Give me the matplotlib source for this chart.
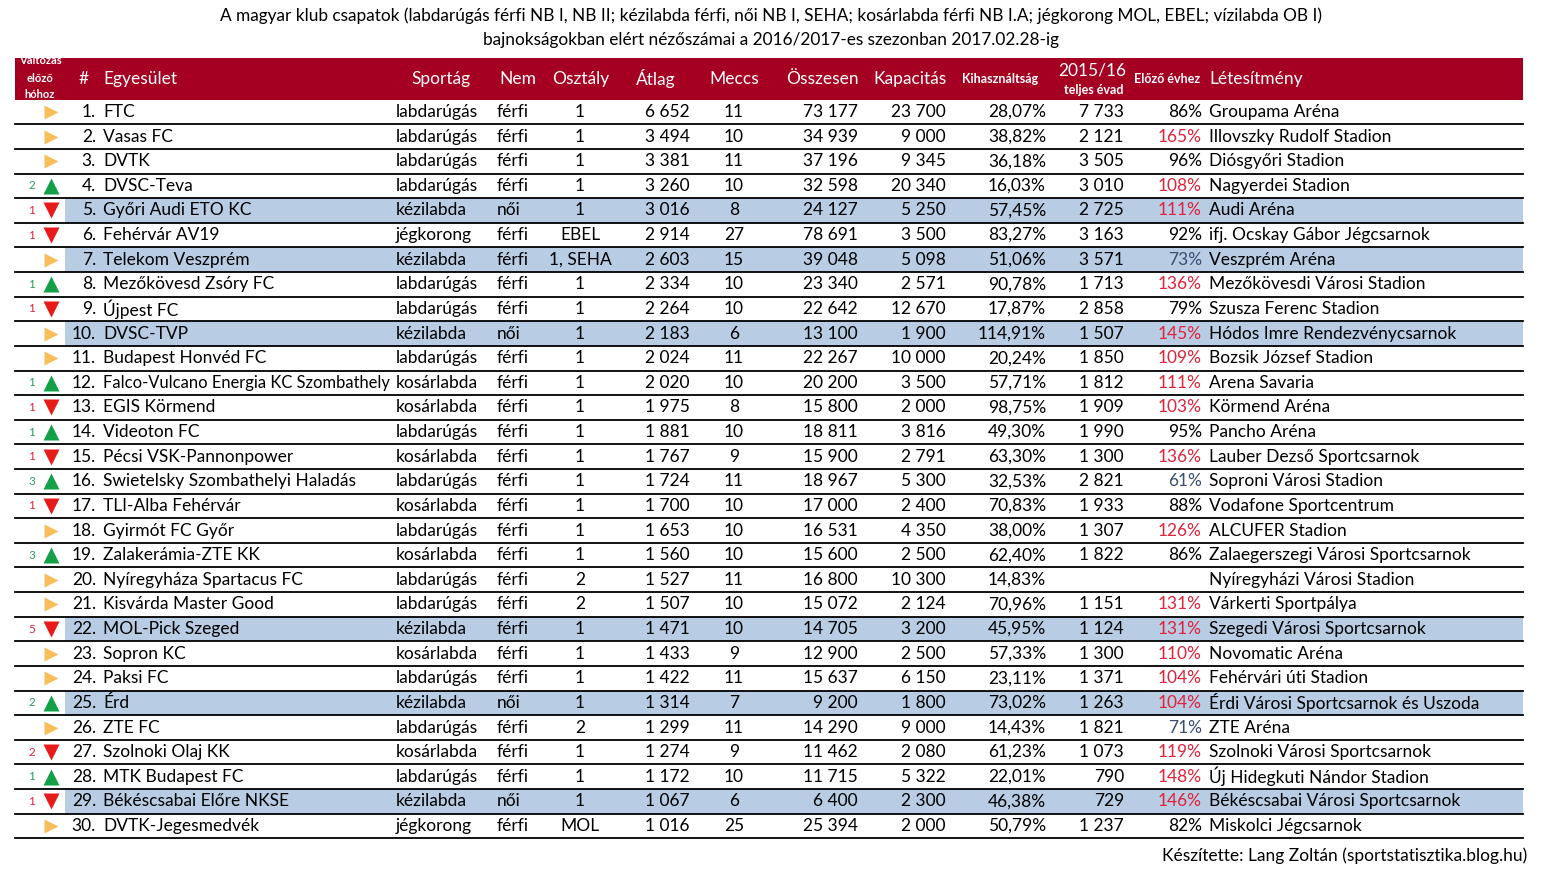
import matplotlib.pyplot as plt
from matplotlib.patches import Rectangle

plt.rcParams['font.family'] = ['Lato', 'DejaVu Sans']

# adatok
valtozas = [0, 0, 0, 2, -1, -1, 0, 1, -1, 0, 0, 1, -1, 1, -1, 3, -1, 0, 3, 0,
            0, -5, 0, 0, 2, 0, -2, 1, -1, 0]
egyesulet = ['FTC', 'Vasas FC', 'DVTK', 'DVSC-Teva', 'Győri Audi ETO KC', 'Fehérvár AV19',
             'Telekom Veszprém', 'Mezőkövesd Zsóry FC', 'Újpest FC', 'DVSC-TVP',
             'Budapest Honvéd FC', 'Falco-Vulcano Energia KC Szombathely', 'EGIS Körmend',
             'Videoton FC', 'Pécsi VSK-Pannonpower', 'Swietelsky Szombathelyi Haladás',
             'TLI-Alba Fehérvár', 'Gyirmót FC Győr', 'Zalakerámia-ZTE KK',
             'Nyíregyháza Spartacus FC', 'Kisvárda Master Good', 'MOL-Pick Szeged',
             'Sopron KC', 'Paksi FC', 'Érd', 'ZTE FC', 'Szolnoki Olaj KK', 'MTK Budapest FC',
             'Békéscsabai Előre NKSE', 'DVTK-Jegesmedvék']
sportag = ['labdarúgás', 'labdarúgás', 'labdarúgás', 'labdarúgás', 'kézilabda', 'jégkorong',
           'kézilabda', 'labdarúgás', 'labdarúgás', 'kézilabda', 'labdarúgás', 'kosárlabda',
           'kosárlabda', 'labdarúgás', 'kosárlabda', 'labdarúgás', 'kosárlabda', 'labdarúgás',
           'kosárlabda', 'labdarúgás', 'labdarúgás', 'kézilabda', 'kosárlabda', 'labdarúgás',
           'kézilabda', 'labdarúgás', 'kosárlabda', 'labdarúgás', 'kézilabda', 'jégkorong']
nem = ['férfi', 'férfi', 'férfi', 'férfi', 'női', 'férfi', 'férfi', 'férfi', 'férfi', 'női',
       'férfi', 'férfi', 'férfi', 'férfi', 'férfi', 'férfi', 'férfi', 'férfi', 'férfi', 'férfi',
       'férfi', 'férfi', 'férfi', 'férfi', 'női', 'férfi', 'férfi', 'férfi', 'női', 'férfi']
osztaly = ['1', '1', '1', '1', '1', 'EBEL', '1, SEHA', '1', '1', '1', '1', '1', '1', '1', '1',
           '1', '1', '1', '1', '2', '2', '1', '1', '1', '1', '2', '1', '1', '1', 'MOL']
atlag = [6652, 3494, 3381, 3260, 3016, 2914, 2603, 2334, 2264, 2183, 2024, 2020, 1975, 1881,
         1767, 1724, 1700, 1653, 1560, 1527, 1507, 1471, 1433, 1422, 1314, 1299, 1274, 1172,
         1067, 1016]
meccs = [11, 10, 11, 10, 8, 27, 15, 10, 10, 6, 11, 10, 8, 10, 9, 11, 10, 10, 10, 11, 10, 10,
         9, 11, 7, 11, 9, 10, 6, 25]
osszesen = [73177, 34939, 37196, 32598, 24127, 78691, 39048, 23340, 22642, 13100, 22267,
            20200, 15800, 18811, 15900, 18967, 17000, 16531, 15600, 16800, 15072, 14705,
            12900, 15637, 9200, 14290, 11462, 11715, 6400, 25394]
kapacitas = [23700, 9000, 9345, 20340, 5250, 3500, 5098, 2571, 12670, 1900, 10000, 3500,
             2000, 3816, 2791, 5300, 2400, 4350, 2500, 10300, 2124, 3200, 2500, 6150, 1800,
             9000, 2080, 5322, 2300, 2000]
kihasznaltsag = ['28,07%', '38,82%', '36,18%', '16,03%', '57,45%', '83,27%', '51,06%',
                 '90,78%', '17,87%', '114,91%', '20,24%', '57,71%', '98,75%', '49,30%',
                 '63,30%', '32,53%', '70,83%', '38,00%', '62,40%', '14,83%', '70,96%',
                 '45,95%', '57,33%', '23,11%', '73,02%', '14,43%', '61,23%', '22,01%',
                 '46,38%', '50,79%']
elozo_evad = [7733, 2121, 3505, 3010, 2725, 3163, 3571, 1713, 2858, 1507, 1850, 1812, 1909,
              1990, 1300, 2821, 1933, 1307, 1822, None, 1151, 1124, 1300, 1371, 1263, 1821,
              1073, 790, 729, 1237]
elozo_evhez = [86, 165, 96, 108, 111, 92, 73, 136, 79, 145, 109, 111, 103, 95, 136, 61, 88,
               126, 86, None, 131, 131, 110, 104, 104, 71, 119, 148, 146, 82]
letesitmeny = ['Groupama Aréna', 'Illovszky Rudolf Stadion', 'Diósgyőri Stadion',
               'Nagyerdei Stadion', 'Audi Aréna', 'ifj. Ocskay Gábor Jégcsarnok',
               'Veszprém Aréna', 'Mezőkövesdi Városi Stadion', 'Szusza Ferenc Stadion',
               'Hódos Imre Rendezvénycsarnok', 'Bozsik József Stadion', 'Arena Savaria',
               'Körmend Aréna', 'Pancho Aréna', 'Lauber Dezső Sportcsarnok',
               'Soproni Városi Stadion', 'Vodafone Sportcentrum', 'ALCUFER Stadion',
               'Zalaegerszegi Városi Sportcsarnok', 'Nyíregyházi Városi Stadion',
               'Várkerti Sportpálya', 'Szegedi Városi Sportcsarnok', 'Novomatic Aréna',
               'Fehérvári úti Stadion', 'Érdi Városi Sportcsarnok és Uszoda', 'ZTE Aréna',
               'Szolnoki Városi Sportcsarnok', 'Új Hidegkuti Nándor Stadion',
               'Békéscsabai Városi Sportcsarnok', 'Miskolci Jégcsarnok']


def ezres(v):
    if v is None:
        return ''
    return f'{v:,}'.replace(',', ' ')


fig = plt.figure(figsize=(15.41, 8.71), dpi=100)
ax = fig.add_axes([0, 0, 1, 1])
ax.set_xlim(0, 1541)
ax.set_ylim(871, 0)
ax.axis('off')

FS = 12.5
SMALL = 9
BORDO = '#A50021'
KEK = '#B8CCE4'

# cim
ax.text(771, 16, 'A magyar klub csapatok (labdarúgás férfi NB I, NB II; kézilabda férfi, női NB I, SEHA; '
        'kosárlabda férfi NB I.A; jégkorong MOL, EBEL; vízilabda OB I)',
        ha='center', va='center', fontsize=12.4)
ax.text(771, 40, 'bajnokságokban elért nézőszámai a 2016/2017-es szezonban 2017.02.28-ig',
        ha='center', va='center', fontsize=12.4)

# fejlec
ax.add_patch(Rectangle((15, 58), 1508, 42, color=BORDO, lw=0))
w = 'white'
for yy, t in zip([61, 78, 94], ['Változás', 'előző', 'hóhoz']):
    ax.text(40, yy, t, ha='center', va='center', fontsize=8, color=w, fontweight='bold')
ax.text(84, 79, '#', ha='center', va='center', fontsize=FS, color=w)
ax.text(103, 79, 'Egyesület', ha='left', va='center', fontsize=FS, color=w)
ax.text(441, 79, 'Sportág', ha='center', va='center', fontsize=FS, color=w)
ax.text(518, 79, 'Nem', ha='center', va='center', fontsize=FS, color=w)
ax.text(581, 79, 'Osztály', ha='center', va='center', fontsize=FS, color=w)
ax.text(656, 79, 'Átlag', ha='center', va='center', fontsize=FS, color=w)
ax.text(734, 79, 'Meccs', ha='center', va='center', fontsize=FS, color=w)
ax.text(822, 79, 'Összesen', ha='center', va='center', fontsize=FS, color=w)
ax.text(910, 79, 'Kapacitás', ha='center', va='center', fontsize=FS, color=w)
ax.text(1000, 79, 'Kihasználtság', ha='center', va='center', fontsize=SMALL, color=w, fontweight='bold')
ax.text(1092, 70, '2015/16', ha='center', va='center', fontsize=FS, color=w)
ax.text(1094, 90, 'teljes évad', ha='center', va='center', fontsize=SMALL, color=w, fontweight='bold')
ax.text(1167, 79, 'Előző évhez', ha='center', va='center', fontsize=SMALL, color=w, fontweight='bold')
ax.text(1209, 79, 'Létesítmény', ha='left', va='center', fontsize=FS, color=w)

y0 = 112
dy = 24.62
for i in range(len(egyesulet)):
    y = y0 + i * dy
    if sportag[i] == 'kézilabda':
        ax.add_patch(Rectangle((65, y - dy / 2), 1458, dy, color=KEK, lw=0, zorder=0))
    ax.plot([15, 1523], [y + dy / 2, y + dy / 2], color='black', lw=1.3)

    v = valtozas[i]
    if v > 0:
        ax.text(35, y, str(v), ha='right', va='center', fontsize=8.5, color='#2E9E5B')
        ax.plot(51, y, marker='^', ms=11, color='#13A048', mec='none')
    elif v < 0:
        ax.text(35, y, str(-v), ha='right', va='center', fontsize=8.5, color='#E0223A')
        ax.plot(51, y, marker='v', ms=11, color='#E81B1B', mec='none')
    else:
        ax.plot(51, y, marker='>', ms=10, color='#F9BE5C', mec='none')

    ax.text(96, y, f'{i + 1}.', ha='right', va='center', fontsize=FS)
    nev_fs = FS if len(egyesulet[i]) < 32 else 11.9
    ax.text(103, y, egyesulet[i], ha='left', va='center', fontsize=nev_fs)
    ax.text(396, y, sportag[i], ha='left', va='center', fontsize=FS)
    ax.text(497, y, nem[i], ha='left', va='center', fontsize=FS)
    ax.text(580, y, osztaly[i], ha='center', va='center', fontsize=FS)
    ax.text(690, y, ezres(atlag[i]), ha='right', va='center', fontsize=FS)
    ax.text(734, y, str(meccs[i]), ha='center', va='center', fontsize=FS)
    ax.text(858, y, ezres(osszesen[i]), ha='right', va='center', fontsize=FS)
    ax.text(946, y, ezres(kapacitas[i]), ha='right', va='center', fontsize=FS)
    ax.text(1046, y, kihasznaltsag[i], ha='right', va='center', fontsize=FS)
    ax.text(1124, y, ezres(elozo_evad[i]), ha='right', va='center', fontsize=FS)
    p = elozo_evhez[i]
    if p is not None:
        c = '#E0223A' if p > 100 else ('#3B4E6E' if p < 75 else 'black')
        ax.text(1202, y, f'{p}%', ha='right', va='center', fontsize=FS, color=c)
    ax.text(1209, y, letesitmeny[i], ha='left', va='center', fontsize=FS)

ax.text(1527, 856, 'Készítette: Lang Zoltán (sportstatisztika.blog.hu)', ha='right', va='center',
        fontsize=FS)

fig.savefig('out.png', dpi=100)
